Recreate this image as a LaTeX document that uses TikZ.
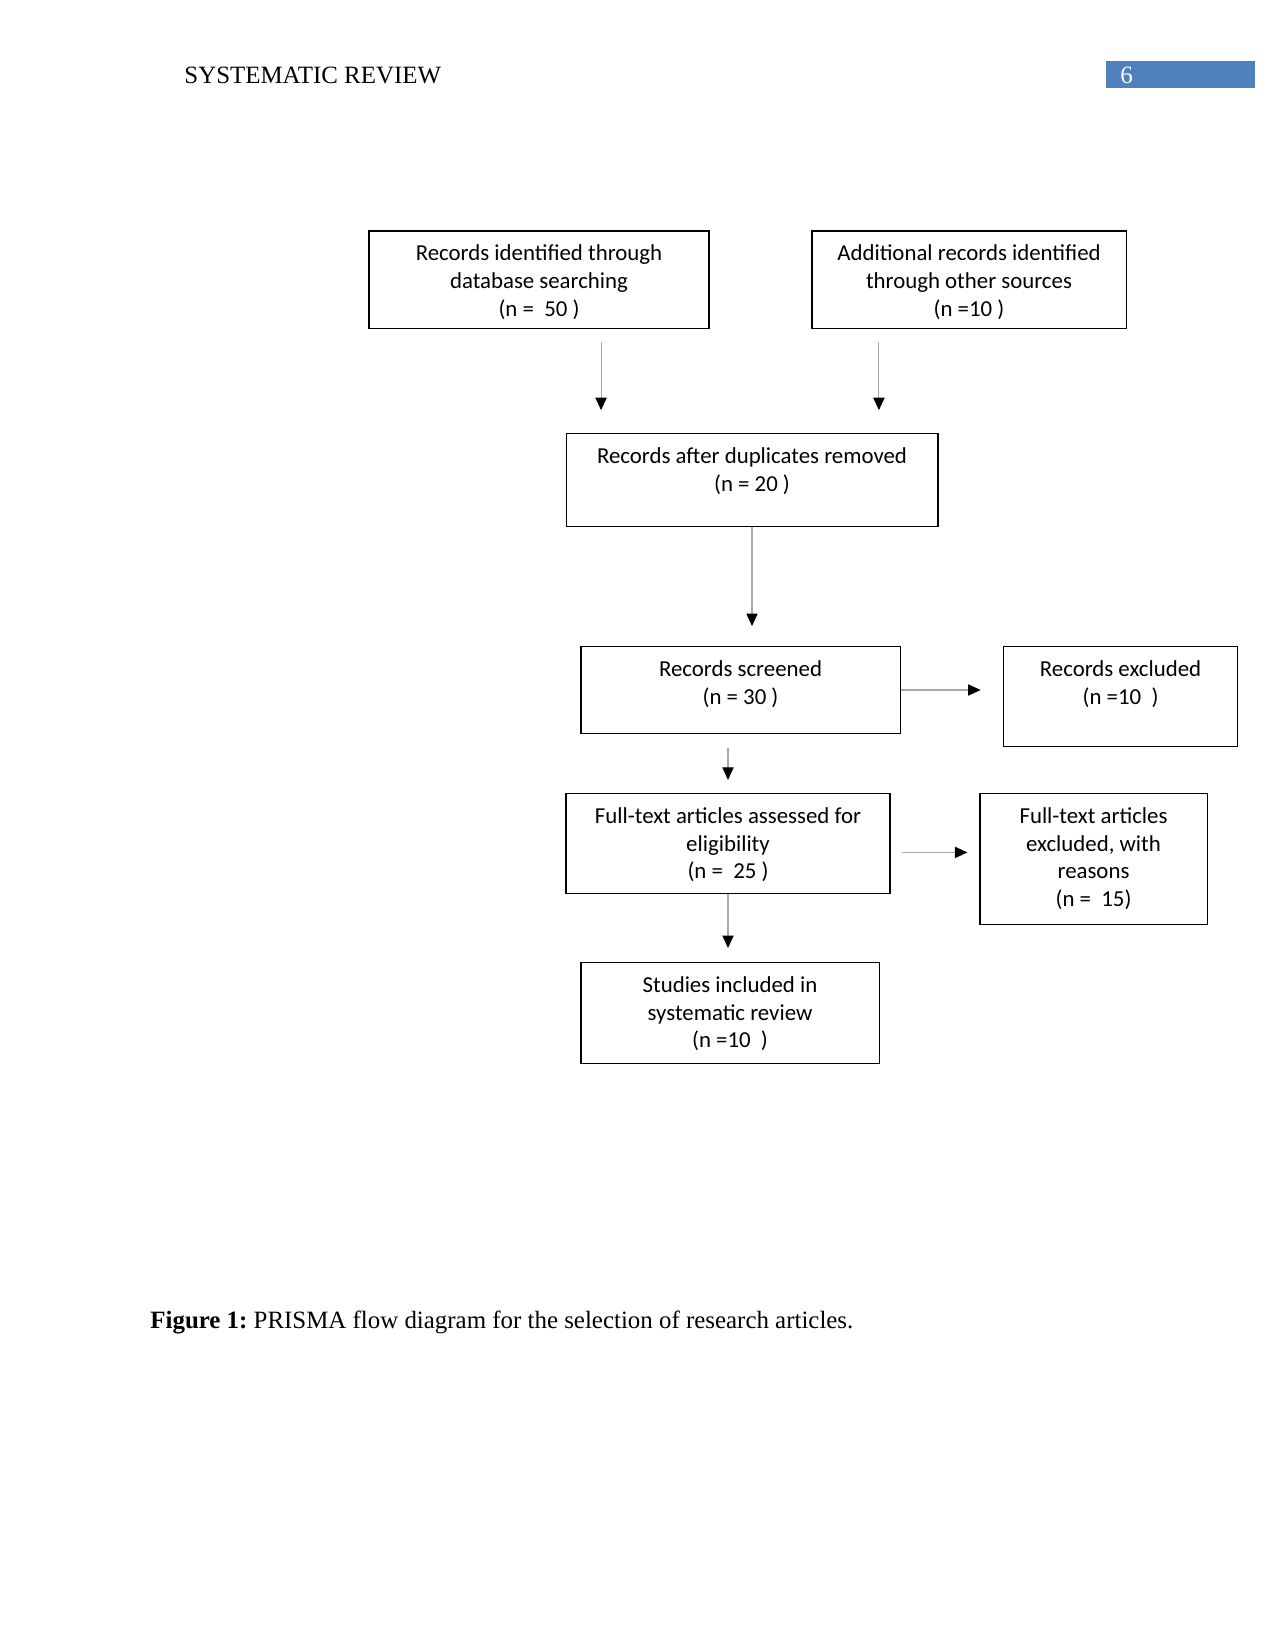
\documentclass[tikz,border=0pt]{standalone}
\usepackage{fontspec}
\setmainfont{Liberation Serif}
\newfontfamily\boxfont{Carlito}
\usetikzlibrary{arrows.meta,positioning,calc}
\definecolor{HeadBlue}{HTML}{4F81BD}
\definecolor{LineGray}{HTML}{A8A8A8}
\frenchspacing
\newcommand{\boxlines}[3]{\parbox[c][#2][t]{#1}{\centering\vspace*{5pt}\strut#3}}
\tikzset{
  flow/.style={draw=black,line width=.5pt,inner sep=0pt,font=\boxfont\fontsize{11}{13.4}\selectfont},
  arrow/.style={-{Triangle[black,length=6pt,width=5.4pt]},draw=LineGray,line width=.5pt}
}

\begin{document}
\begin{tikzpicture}[x=0.4818pt,y=-0.4818pt]
  \useasboundingbox (0,0) rectangle (1275,1650);
  % running head
  \node[anchor=west,inner sep=0pt,font=\fontsize{12}{14}\selectfont] (runhead) at (184,75) {SYSTEMATIC REVIEW};
  \fill[HeadBlue] (1106,61) rectangle (1255,88);
  \node[anchor=west,inner sep=0pt,text=white,font=\fontsize{12}{14}\selectfont] (pagenum) at (1120,75) {6};
  % boxes
  \node[flow] (database) at (539,280) {\boxlines{163.8pt}{47.2pt}{Records identified through\\database searching\\(n =~ 50 )}};
  \node[flow] (othersrc) at (969,280) {\boxlines{151.3pt}{47.2pt}{Additional records identified\\through other sources\\(n =10 )}};
  \node[flow] (dedup) at (752,480) {\boxlines{179.2pt}{44.8pt}{Records after duplicates removed\\(n = 20 )}};
  \node[flow] (screened) at (740.5,690) {\boxlines{153.7pt}{41.9pt}{Records screened\\(n = 30 )}};
  \node[flow] (excluded) at (1120.5,696.5) {\boxlines{112.3pt}{48.2pt}{Records excluded\\(n =10~ )}};
  \node[flow] (fulltext) at (728,843.5) {\boxlines{156.1pt}{48.2pt}{Full-text articles assessed for\\eligibility\\(n =~ 25 )}};
  \node[flow] (ftexcl) at (1093.5,859) {\boxlines{109.4pt}{63.1pt}{Full-text articles\\excluded, with\\reasons\\(n =~ 15)}};
  \node[flow] (included) at (730,1013) {\boxlines{143.6pt}{48.7pt}{Studies included in\\systematic review\\(n =10~ )}};
  % arrows
  \draw[arrow,shorten <=5.8pt,shorten >=11pt] ([xshift=29.9pt]database.south) -- ([xshift=29.9pt]database.south |- dedup.north);
  \draw[arrow,shorten <=5.8pt,shorten >=11pt] ([xshift=-43.4pt]othersrc.south) -- ([xshift=-43.4pt]othersrc.south |- dedup.north);
  \draw[arrow,shorten >=9.6pt] (dedup.south) -- (dedup.south |- screened.north);
  \draw[arrow,shorten >=11pt] (screened.east) -- (screened.east -| excluded.west);
  \draw[arrow,shorten <=6.7pt,shorten >=6.3pt] (fulltext.north |- screened.south) -- (fulltext.north);
  \draw[arrow,shorten <=5.3pt,shorten >=5.8pt] ([yshift=-4.3pt]fulltext.east) -- ([yshift=-4.3pt]fulltext.east -| ftexcl.west);
  \draw[arrow,shorten >=6.7pt] (fulltext.south) -- (fulltext.south |- included.north);
  % caption
  \node[anchor=west,inner sep=0pt,font=\fontsize{12}{14}\selectfont] (caption) at (150,1322) {\textbf{Figure 1:} PRISMA flow diagram for the selection of research articles.};
\end{tikzpicture}
\end{document}
